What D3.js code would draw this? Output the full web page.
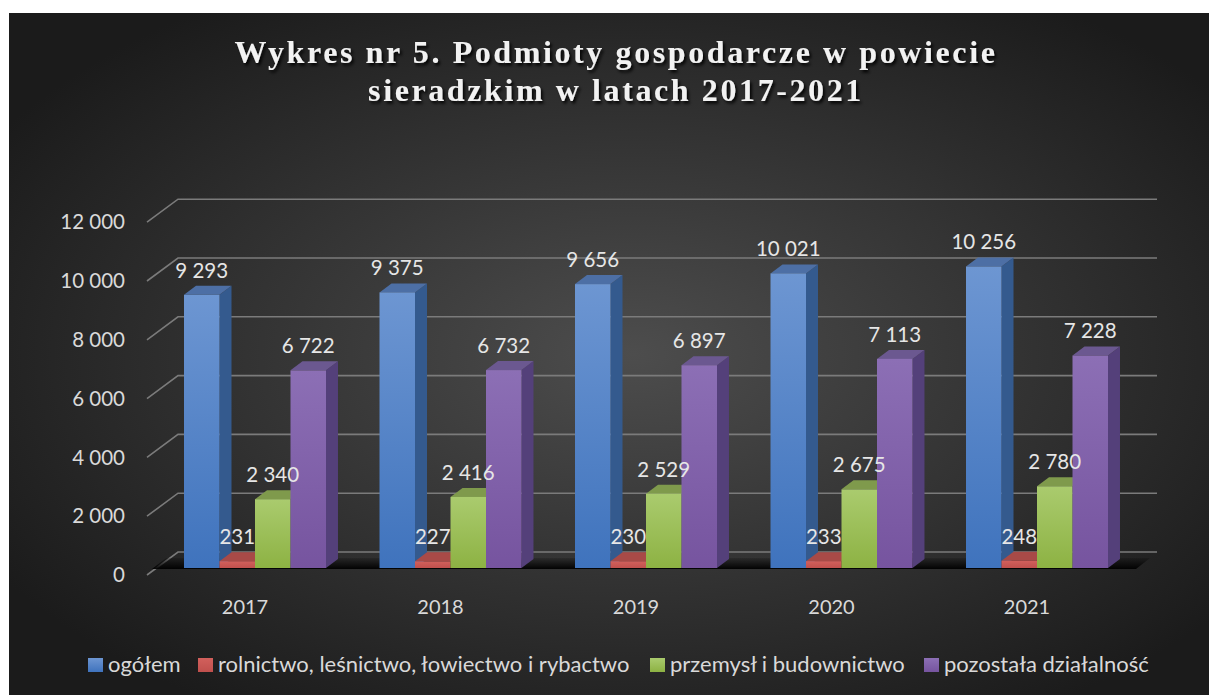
<!DOCTYPE html>
<html>
<head>
<meta charset="utf-8">
<script src="https://cdn.jsdelivr.net/npm/d3@7"></script>
<style>
  html, body { margin: 0; padding: 0; background: #fff; }
  svg { display: block; }
</style>
</head>
<body>
<svg id="chart" width="1209" height="695"></svg>
<script>
"use strict";

// DATA
const years = ["2017", "2018", "2019", "2020", "2021"];
const seriesNames = [
	"ogółem",
	"rolnictwo, leśnictwo, łowiectwo i rybactwo",
	"przemysł i budownictwo",
	"pozostała działalność",
];
const ogolem = [9293, 9375, 9656, 10021, 10256];
const rolnictwo = [231, 227, 230, 233, 248];
const przemysl = [2340, 2416, 2529, 2675, 2780];
const pozostala = [6722, 6732, 6897, 7113, 7228];
const yTicks = [0, 2000, 4000, 6000, 8000, 10000, 12000];
const titleLines = [
	"Wykres nr 5. Podmioty gospodarcze w powiecie",
	"sieradzkim w latach 2017-2021",
];

// colours: front top, front bottom, side, top face
const palette = [
	{ a: "#6d96d2", b: "#3f73bd", side: "#345a8e", top: "#4d6fa5" },
	{ a: "#d2605c", b: "#c0504d", side: "#8c3735", top: "#a84a47" },
	{ a: "#aacb6e", b: "#8db243", side: "#6b8a33", top: "#7f9a4c" },
	{ a: "#8c6fb5", b: "#76549f", side: "#54407a", top: "#6b5890" },
];

const allSeries = [ogolem, rolnictwo, przemysl, pozostala];
const fmt = (v) => d3.format(",")(v).replace(/,/g, " ");

const svg = d3.select("#chart");
const defs = svg.append("defs");

// background gradient
const bg = defs.append("radialGradient").attr("id", "bg")
	.attr("cx", "52%").attr("cy", "50%").attr("r", "62%");
bg.append("stop").attr("offset", "0%").attr("stop-color", "#4d4d4d");
bg.append("stop").attr("offset", "100%").attr("stop-color", "#1b1b1b");

palette.forEach((p, i) => {
	const g = defs.append("linearGradient").attr("id", "front" + i)
		.attr("x1", 0).attr("y1", 0).attr("x2", 0).attr("y2", 1);
	g.append("stop").attr("offset", "0%").attr("stop-color", p.a);
	g.append("stop").attr("offset", "100%").attr("stop-color", p.b);
});

const floorGrad = defs.append("linearGradient").attr("id", "floor")
	.attr("x1", 0).attr("y1", 1).attr("x2", 0).attr("y2", 0);
floorGrad.append("stop").attr("offset", "0%").attr("stop-color", "#000").attr("stop-opacity", 0.95);
floorGrad.append("stop").attr("offset", "100%").attr("stop-color", "#000").attr("stop-opacity", 0.15);

const shadow = defs.append("filter").attr("id", "shadow")
	.attr("x", "-5%").attr("y", "-20%").attr("width", "110%").attr("height", "150%");
shadow.append("feDropShadow").attr("dx", 2).attr("dy", 2.5)
	.attr("stdDeviation", 1.6).attr("flood-color", "#000").attr("flood-opacity", 0.9);

svg.append("rect").attr("x", 9).attr("y", 13).attr("width", 1200).attr("height", 682)
	.attr("fill", "url(#bg)");

// scales
const x = d3.scaleBand().domain(years).range([157.25, 1134.75])
	.paddingInner(0.2737).paddingOuter(0.2737 / 2);
const xs = d3.scaleBand().domain(d3.range(seriesNames.length)).range([0, x.bandwidth()]);
const y = d3.scaleLinear().domain([0, 12000]).range([568, 568 - 12000 * 0.0294]);

// 3D offsets
const wallFront = { x: 147, dy: 7 };
const wallBack = { x: 178, dy: -16 };
const gridRight = 1157;
const depth = { x: 12, y: -9 };

// gridlines
const grid = svg.append("g").attr("stroke", "#7b7b7b").attr("stroke-width", 1.6).attr("fill", "none");
yTicks.forEach((t) => {
	grid.append("path").attr("d",
		`M${wallFront.x},${y(t) + wallFront.dy}L${wallBack.x},${y(t) + wallBack.dy}L${gridRight},${y(t) + wallBack.dy}`);
});

// floor shadow
svg.append("path")
	.attr("d", `M152,569L1136,569L1150,558L166,558Z`)
	.attr("fill", "url(#floor)");

// y tick labels
svg.append("g").selectAll("text").data(yTicks).join("text")
	.attr("x", 125).attr("y", (d) => y(d) + wallFront.dy)
	.attr("dy", "0.35em").attr("text-anchor", "end")
	.attr("font-family", "Lato, 'Open Sans', sans-serif").attr("font-size", 20.5)
	.attr("fill", "#d9d9d9").text(fmt);

// bars
const bars = svg.append("g");
years.forEach((yr, j) => {
	allSeries.forEach((vals, i) => {
		const v = vals[j];
		const x0 = x(yr) + xs(i);
		const w = xs.bandwidth();
		const yTop = y(v), yBase = y(0);
		const p = palette[i];
		const g = bars.append("g");
		// side
		g.append("path").attr("d",
			`M${x0 + w},${yTop}L${x0 + w + depth.x},${yTop + depth.y}L${x0 + w + depth.x},${yBase + depth.y}L${x0 + w},${yBase}Z`)
			.attr("fill", p.side);
		// top
		g.append("path").attr("d",
			`M${x0},${yTop}L${x0 + depth.x},${yTop + depth.y}L${x0 + w + depth.x},${yTop + depth.y}L${x0 + w},${yTop}Z`)
			.attr("fill", p.top);
		// front
		g.append("rect").attr("x", x0).attr("y", yTop).attr("width", w).attr("height", yBase - yTop)
			.attr("fill", `url(#front${i})`);
	});
});

// value labels
years.forEach((yr, j) => {
	allSeries.forEach((vals, i) => {
		const v = vals[j];
		svg.append("text")
			.attr("x", x(yr) + xs(i) + xs.bandwidth() / 2)
			.attr("y", y(v) - 17)
			.attr("text-anchor", "middle")
			.attr("font-family", "Lato, 'Open Sans', sans-serif").attr("font-size", 20.5)
			.attr("fill", "#e6e6e6").text(fmt(v));
	});
});

// category labels
svg.append("g").selectAll("text").data(years).join("text")
	.attr("x", (d) => x(d) + x.bandwidth() / 2 - 10).attr("y", 607)
	.attr("dy", "0.35em").attr("text-anchor", "middle")
	.attr("font-family", "Lato, 'Open Sans', sans-serif").attr("font-size", 20)
	.attr("fill", "#d9d9d9").text((d) => d);

// title
svg.append("g").selectAll("text").data(titleLines).join("text")
	.attr("x", 616).attr("y", (d, i) => 63 + i * 38)
	.attr("text-anchor", "middle")
	.attr("font-family", "'Liberation Serif', 'Times New Roman', serif")
	.attr("font-weight", "bold").attr("font-size", 32).attr("letter-spacing", 2.6)
	.attr("fill", "#f2f2f2").attr("filter", "url(#shadow)")
	.text((d) => d);

// legend
const legendX = [88, 198, 650, 924];
const legend = svg.append("g");
seriesNames.forEach((name, i) => {
	legend.append("rect").attr("x", legendX[i]).attr("y", 658).attr("width", 15).attr("height", 14)
		.attr("fill", `url(#front${i})`);
	legend.append("text").attr("x", legendX[i] + 20).attr("y", 672)
		.attr("font-family", "Lato, 'Open Sans', sans-serif").attr("font-size", 22)
		.attr("fill", "#d9d9d9").text(name);
});
</script>
</body>
</html>
